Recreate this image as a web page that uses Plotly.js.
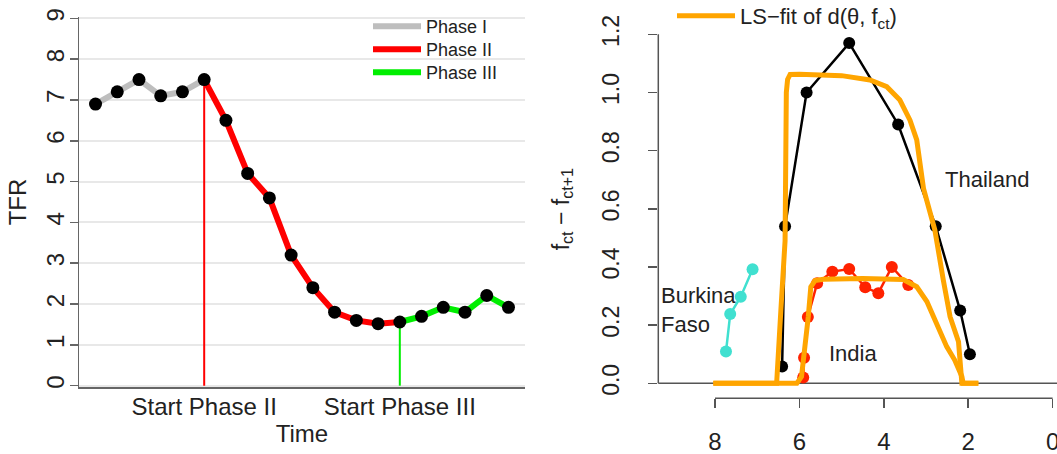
<!DOCTYPE html>
<html>
<head>
<meta charset="utf-8">
<script src="https://cdn.plot.ly/plotly-3.0.1.min.js"></script>
<style>html,body{margin:0;padding:0;background:#fff;}#chart{width:1057px;height:454px;}</style>
</head>
<body>
<div id="chart"></div>
<script>
// ---------- Left panel data ----------
const timeIdx = [1,2,3,4,5,6,7,8,9,10,11,12,13,14,15,16,17,18,19,20];
const tfr = [6.9,7.2,7.5,7.1,7.2,7.5,6.5,5.2,4.6,3.2,2.4,1.8,1.6,1.52,1.56,1.7,1.92,1.8,2.21,1.92];
const startPhase2 = 6;   // time index where Phase II starts
const startPhase3 = 15;  // time index where Phase III starts
const phaseNames = ["Phase I","Phase II","Phase III"];
const phaseColors = ["#bebebe","#ff0000","#00ee00"];
const xTickLabels = ["Start Phase II","Start Phase III"];
const leftYTicks = [0,1,2,3,4,5,6,7,8,9];

// ---------- Right panel data ----------
const burkinaX = [7.74,7.64,7.39,7.11];
const burkinaY = [0.109,0.238,0.298,0.392];
const indiaX = [5.91,5.89,5.80,5.58,5.22,4.82,4.44,4.13,3.81,3.42];
const indiaY = [0.02,0.088,0.228,0.344,0.384,0.393,0.33,0.31,0.40,0.338];
const thaiX = [6.41,6.34,5.83,4.82,3.66,2.77,2.19,1.96];
const thaiY = [0.058,0.54,1.0,1.17,0.89,0.54,0.25,0.10];
const thaiFitX = [8.04,6.54,6.44,6.34,6.31,6.28,6.22,6.0,5.0,4.33,3.93,3.62,3.38,3.22,3.06,2.79,2.59,2.43,2.23,2.19,2.15,1.76];
const thaiFitY = [0,0,0.25,0.49,1.0,1.045,1.062,1.063,1.058,1.043,1.02,0.974,0.905,0.837,0.67,0.527,0.355,0.229,0.143,0.069,0,0];
const indiaFitX = [8.04,6.06,5.95,5.87,5.79,5.73,5.63,5.43,4.5,3.54,3.22,2.98,2.75,2.51,2.32,2.15,2.12,1.76];
const indiaFitY = [0,0,0.023,0.115,0.229,0.332,0.353,0.358,0.36,0.357,0.332,0.281,0.206,0.126,0.08,0.023,0,0];
const rightXTicks = [8,6,4,2,0];
const rightYTicks = [0,0.2,0.4,0.6,0.8,1.0,1.2];
const fitLabel = "LS\u2212fit of d(\u03b8, f<sub>ct</sub>)";

// ---------- Build traces ----------
const i2 = timeIdx.indexOf(startPhase2);
const i3 = timeIdx.indexOf(startPhase3);
const FONT = "Liberation Sans, Arial, sans-serif";

const traces = [
  {x: timeIdx.slice(0, i2+1), y: tfr.slice(0, i2+1), mode:"lines", line:{color:phaseColors[0], width:6},
   name: phaseNames[0], xaxis:"x", yaxis:"y", legend:"legend"},
  {x: timeIdx.slice(i2, i3+1), y: tfr.slice(i2, i3+1), mode:"lines", line:{color:phaseColors[1], width:6},
   name: phaseNames[1], xaxis:"x", yaxis:"y", legend:"legend3"},
  {x: timeIdx.slice(i3), y: tfr.slice(i3), mode:"lines", line:{color:phaseColors[2], width:6},
   name: phaseNames[2], xaxis:"x", yaxis:"y", legend:"legend4"},
  {x: [startPhase2, startPhase2], y: [0, tfr[i2]], mode:"lines", line:{color:phaseColors[1], width:2},
   showlegend:false, xaxis:"x", yaxis:"y"},
  {x: [startPhase3, startPhase3], y: [0, tfr[i3]], mode:"lines", line:{color:phaseColors[2], width:2},
   showlegend:false, xaxis:"x", yaxis:"y"},
  {x: timeIdx, y: tfr, mode:"markers", marker:{color:"#000", size:13},
   showlegend:false, xaxis:"x", yaxis:"y"},

  {x: burkinaX, y: burkinaY, mode:"lines+markers", line:{color:"#40e0d0", width:2.5},
   marker:{color:"#40e0d0", size:12}, showlegend:false, xaxis:"x2", yaxis:"y2"},
  {x: indiaX, y: indiaY, mode:"lines+markers", line:{color:"#ff2200", width:2.5},
   marker:{color:"#ff2200", size:12}, showlegend:false, xaxis:"x2", yaxis:"y2"},
  {x: thaiX, y: thaiY, mode:"lines+markers", line:{color:"#000", width:2.5},
   marker:{color:"#000", size:12}, showlegend:false, xaxis:"x2", yaxis:"y2"},
  {x: thaiFitX, y: thaiFitY, mode:"lines", line:{color:"#ffa500", width:5},
   name: fitLabel, xaxis:"x2", yaxis:"y2", legend:"legend2"},
  {x: indiaFitX, y: indiaFitY, mode:"lines", line:{color:"#ffa500", width:5},
   showlegend:false, xaxis:"x2", yaxis:"y2"}
];

const W = 1057, H = 454;
const phaseLegend = (topPx) => ({
  x: 368/W, xanchor: "left", y: 1-topPx/H, yanchor: "top",
  bgcolor: "rgba(0,0,0,0)", font: {size: 18, color: "#222"}, itemwidth: 48
});
const layout = {
  width: W, height: H,
  margin: {l:0, r:0, t:0, b:0, autoexpand:false},
  paper_bgcolor: "#fff", plot_bgcolor: "#fff",
  font: {family: FONT, color: "#222", size: 22},
  showlegend: true,
  xaxis: {
    domain: [79/W, 525/W], range: [0.24, 20.76], anchor: "y",
    showgrid: false, zeroline: false, showline: true, linecolor: "#666", linewidth: 1.5,
    tickvals: [startPhase2, startPhase3], ticktext: xTickLabels, ticks: "",
    tickfont: {size: 24, color: "#222"}, ticklabelstandoff: -2,
    title: {text: "Time", font: {size: 24, color: "#222"}, standoff: 4}
  },
  yaxis: {
    domain: [1-387/H, 1-17/H], range: [-0.032, 9.032], anchor: "x",
    showgrid: true, gridcolor: "#e8e8e8", gridwidth: 2, zeroline: false,
    showline: true, linecolor: "#666", linewidth: 1.5,
    tickvals: leftYTicks, ticks: "outside", ticklen: 8, tickcolor: "#666", tickwidth: 1.5,
    tickangle: -90, tickfont: {size: 24, color: "#222"}, ticklabelstandoff: -4,
    title: {text: "TFR", font: {size: 24, color: "#222"}, standoff: 8}
  },
  xaxis2: {
    domain: [658.3/W, 1], range: [9.344, -0.104], anchor: "y2",
    showgrid: false, zeroline: false, showline: false,
    tickvals: rightXTicks, ticks: "outside", ticklen: 9, tickcolor: "#555", tickwidth: 1.5,
    tickfont: {size: 24, color: "#222"}, ticklabelstandoff: 13, ticklabeloverflow: "allow"
  },
  yaxis2: {
    domain: [1-398.3/H, 1-20/H], range: [-0.0516, 1.2493], anchor: "x2",
    showgrid: false, zeroline: false, showline: false,
    tickvals: rightYTicks, ticktext: rightYTicks.map(v => v.toFixed(1)),
    ticks: "outside", ticklen: 9, tickcolor: "#555", tickwidth: 1.5,
    tickangle: -90, tickfont: {size: 23, color: "#222"}, ticklabelstandoff: 20,
    title: {text: "f<sub>ct</sub> \u2212 f<sub>ct+1</sub>", font: {size: 23, color: "#222"}, standoff: 22}
  },
  legend: phaseLegend(8),
  legend3: phaseLegend(31),
  legend4: phaseLegend(54),
  legend2: {
    x: 672/W, xanchor: "left", y: 1+5/H, yanchor: "top",
    bgcolor: "rgba(0,0,0,0)", font: {size: 22, color: "#222"},
    itemwidth: 58
  },
  shapes: [
    {type:"line", xref:"x2 domain", x0:0, x1:0, yref:"y2",
     y0: rightYTicks[0], y1: rightYTicks[rightYTicks.length-1], line:{color:"#555", width:1.5}},
    {type:"line", xref:"x2", x0: rightXTicks[0], x1: rightXTicks[rightXTicks.length-1],
     yref:"y2 domain", y0:0, y1:0, line:{color:"#555", width:1.5}},
    {type:"line", xref:"x2 domain", x0:0, x1:1, yref:"y2", y0:0, y1:0, line:{color:"#555", width:1.5}, layer:"below"}
  ],
  annotations: [
    {xref:"x2", yref:"y2", x: 2.59, y: 0.70, text:"Thailand", showarrow:false, xanchor:"left", yanchor:"middle",
     font:{size:22, color:"#222"}},
    {xref:"x2", yref:"y2", x: 5.34, y: 0.103, text:"India", showarrow:false, xanchor:"left", yanchor:"middle",
     font:{size:22, color:"#222"}},
    {xref:"x2", yref:"y2", x: 9.32, y: 0.252, text:"Burkina<br>Faso", showarrow:false, xanchor:"left", yanchor:"middle",
     align:"left", font:{size:22, color:"#222"}}
  ]
};

Plotly.newPlot("chart", traces, layout, {displayModeBar:false, staticPlot:true});
</script>
</body>
</html>
